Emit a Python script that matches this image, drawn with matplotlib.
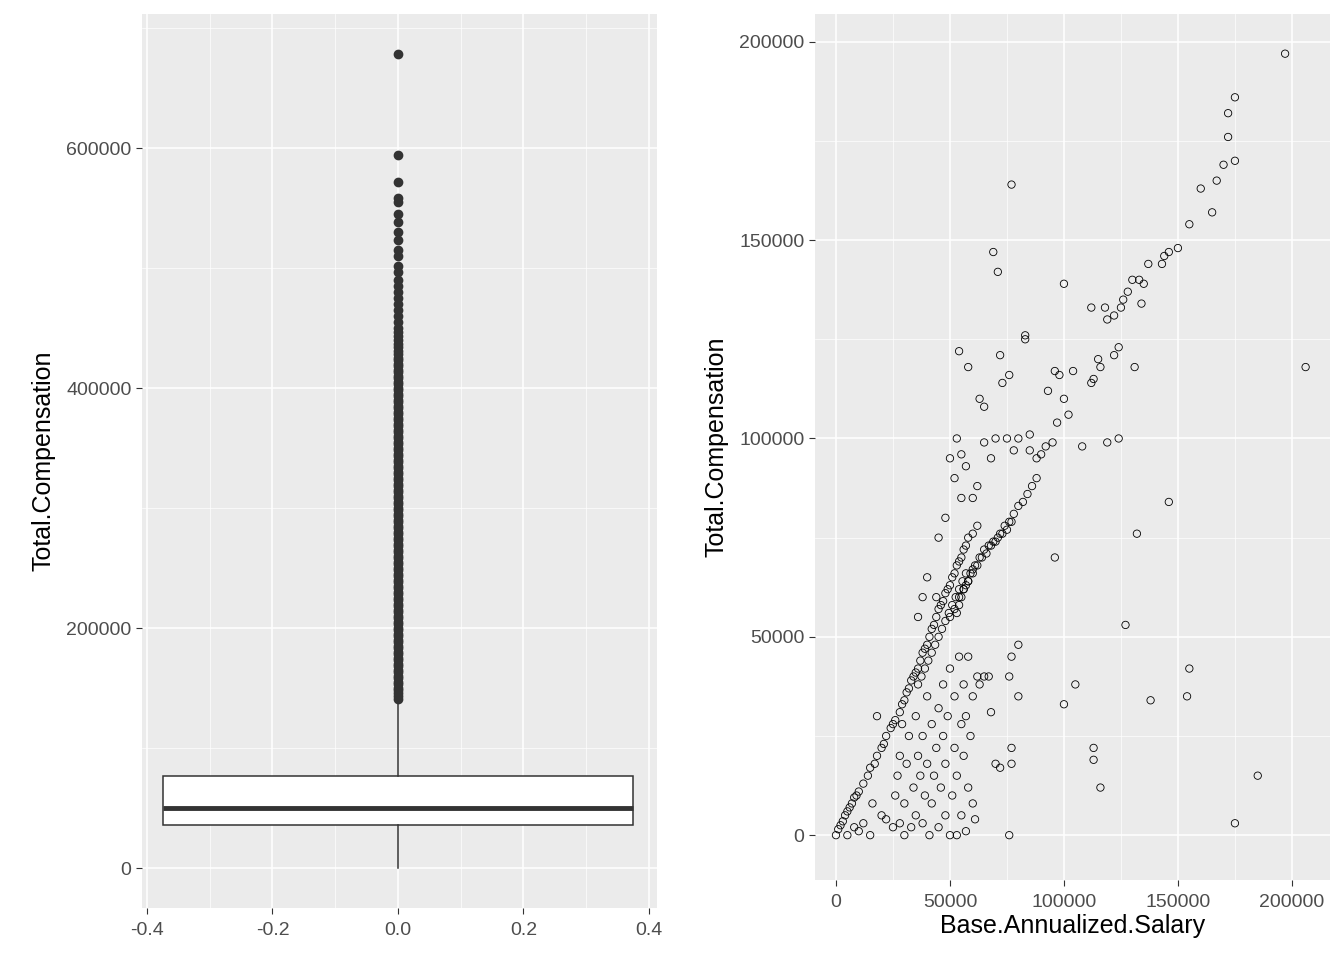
import numpy as np
import matplotlib
matplotlib.use("Agg")
import matplotlib.pyplot as plt

plt.rcParams["font.family"] = ["Liberation Sans", "DejaVu Sans"]

# box statistics (Total.Compensation)
box_q1, box_med, box_q3 = 36000, 50000, 77000
box_lo, box_hi = 0, 140000
outliers = [141000, 143000, 146000, 148000, 150000, 153000, 155000, 158000, 160000, 163000,
            165000, 168000, 170000, 173000, 175000, 178000, 180000, 183000, 185000, 188000,
            190000, 193000, 195000, 198000, 200000, 203000, 205000, 208000, 210000, 213000,
            215000, 218000, 220000, 223000, 225000, 228000, 230000, 233000, 235000, 238000,
            240000, 243000, 245000, 248000, 250000, 253000, 255000, 258000, 260000, 263000,
            265000, 268000, 270000, 273000, 275000, 278000, 280000, 283000, 285000, 288000,
            290000, 293000, 295000, 298000, 300000, 303000, 305000, 308000, 310000, 313000,
            315000, 318000, 320000, 323000, 325000, 328000, 330000, 333000, 335000, 338000,
            340000, 343000, 345000, 348000, 350000, 353000, 355000, 358000, 360000, 363000,
            365000, 368000, 370000, 373000, 375000, 378000, 380000, 383000, 385000, 388000,
            390000, 393000, 395000, 398000, 400000, 403000, 405000, 408000, 410000, 413000,
            415000, 418000, 420000, 423000, 425000, 428000, 431000, 434000, 437000, 440000,
            443000, 447000, 450000, 455000, 460000, 465000, 470000, 475000, 480000, 485000,
            490000, 497000, 502000, 510000, 515000, 523000, 530000, 538000, 545000, 555000,
            558000, 572000, 594000, 678000]

# scatter: Base.Annualized.Salary vs Total.Compensation
base = [0, 1000, 2000, 3000, 4000, 5000, 6000, 7000, 8000, 9000, 10000, 12000, 14000, 15000,
        17000, 18000, 20000, 21000, 22000, 24000, 25000, 26000, 28000, 29000, 30000, 31000,
        32000, 33000, 34000, 35000, 36000, 37000, 38000, 39000, 40000, 41000, 42000, 43000,
        44000, 45000, 46000, 47000, 48000, 49000, 50000, 51000, 52000, 53000, 54000, 55000,
        56000, 57000, 58000, 60000, 62000,
        50000, 52000, 54000, 56000, 58000, 60000, 62000, 64000, 66000, 68000, 70000, 72000,
        74000, 76000, 78000, 80000, 82000, 84000, 86000, 88000,
        197000, 206000, 175000, 172000, 172000, 175000, 170000, 165000, 167000, 160000, 155000,
        150000, 146000, 144000, 143000, 137000, 133000, 135000, 130000, 128000, 126000, 125000,
        118000, 119000, 122000, 112000, 115000, 116000, 113000, 112000, 124000, 122000, 134000,
        131000, 119000, 124000, 100000, 77000, 69000, 71000, 54000, 58000, 72000, 83000, 83000,
        76000, 73000, 63000, 65000, 146000, 132000, 127000, 155000, 154000, 138000, 185000,
        175000, 113000, 113000, 116000, 105000, 100000, 96000, 80000, 80000, 77000, 77000,
        72000, 76000, 76000, 77000,
        5000, 8000, 10000, 12000, 15000, 16000, 18000, 20000, 22000, 25000, 26000, 27000, 28000,
        28000, 29000, 30000, 30000, 31000, 32000, 33000, 34000, 35000, 35000, 36000, 37000,
        38000, 38000, 39000, 40000, 40000, 41000, 42000, 42000, 43000, 44000, 45000, 45000,
        46000, 47000, 47000, 48000, 48000, 49000, 50000, 50000, 51000, 52000, 52000, 53000,
        53000, 54000, 55000, 55000, 56000, 56000, 57000, 57000, 58000, 58000, 59000, 60000,
        60000, 61000, 62000, 63000, 65000, 67000, 68000, 70000,
        55000, 50000, 52000, 53000, 55000, 57000, 60000, 62000, 65000, 68000, 70000, 75000,
        78000, 80000, 85000, 88000, 90000, 92000, 95000, 97000, 98000, 100000, 102000, 104000,
        108000, 93000, 96000, 85000, 48000, 45000, 44000, 40000, 38000, 36000,
        36000, 37500, 39000, 40500, 42000, 43500, 45000, 46500, 48000, 49500, 51000, 52500,
        54000, 55500, 57000, 53000, 54000, 55000, 56000, 57000, 58000, 59000, 60000, 61000,
        63000, 65000, 67000, 69000, 71000, 73000, 75000, 77000]
total = [0, 1500, 2500, 3500, 5000, 6000, 7000, 8000, 9500, 10000, 11000, 13000, 15000, 17000,
         18000, 20000, 22000, 23000, 25000, 27000, 28000, 29000, 31000, 33000, 34000, 36000,
         37000, 39000, 40000, 41000, 42000, 44000, 46000, 47000, 48000, 50000, 52000, 53000,
         55000, 57000, 58000, 59000, 61000, 62000, 63000, 65000, 66000, 68000, 69000, 70000,
         72000, 73000, 75000, 76000, 78000,
         55000, 57000, 60000, 62000, 64000, 66000, 68000, 70000, 71000, 73000, 74000, 76000,
         78000, 79000, 81000, 83000, 84000, 86000, 88000, 90000,
         197000, 118000, 186000, 182000, 176000, 170000, 169000, 157000, 165000, 163000, 154000,
         148000, 147000, 146000, 144000, 144000, 140000, 139000, 140000, 137000, 135000, 133000,
         133000, 130000, 131000, 133000, 120000, 118000, 115000, 114000, 123000, 121000, 134000,
         118000, 99000, 100000, 139000, 164000, 147000, 142000, 122000, 118000, 121000, 126000,
         125000, 116000, 114000, 110000, 108000, 84000, 76000, 53000, 42000, 35000, 34000,
         15000, 3000, 22000, 19000, 12000, 38000, 33000, 70000, 48000, 35000, 22000, 18000,
         17000, 0, 40000, 45000,
         0, 2000, 1000, 3000, 0, 8000, 30000, 5000, 4000, 2000, 10000, 15000, 3000, 20000,
         28000, 0, 8000, 18000, 25000, 2000, 12000, 30000, 5000, 20000, 15000, 3000, 25000,
         10000, 35000, 18000, 0, 28000, 8000, 15000, 22000, 2000, 32000, 12000, 38000, 25000,
         5000, 18000, 30000, 0, 42000, 10000, 22000, 35000, 0, 15000, 45000, 28000, 5000, 38000,
         20000, 1000, 30000, 12000, 45000, 25000, 8000, 35000, 4000, 40000, 38000, 40000, 40000,
         31000, 18000,
         85000, 95000, 90000, 100000, 96000, 93000, 85000, 88000, 99000, 95000, 100000, 100000,
         97000, 100000, 101000, 95000, 96000, 98000, 99000, 104000, 116000, 110000, 106000,
         117000, 98000, 112000, 117000, 97000, 80000, 75000, 60000, 65000, 60000, 55000,
         38000, 40000, 42000, 44000, 46000, 48000, 50000, 52000, 54000, 56000, 58000, 60000,
         62000, 64000, 66000, 56000, 58000, 60000, 62000, 63000, 64000, 66000, 67000, 68000,
         70000, 72000, 73000, 74000, 75000, 76000, 77000, 79000]

BG, TXT = "#EBEBEB", "#4D4D4D"


def style(ax, xmin, ymin):
    ax.set_facecolor(BG)
    for s in ax.spines.values():
        s.set_visible(False)
    ax.set_xticks(xmin, minor=True)
    ax.set_yticks(ymin, minor=True)
    ax.grid(True, which="major", color="white", lw=1.1)
    ax.grid(True, which="minor", color="white", lw=0.5)
    ax.set_axisbelow(True)
    ax.tick_params(which="major", colors="#333333", labelcolor=TXT, labelsize=14, length=4)
    ax.tick_params(axis="x", which="major", pad=6)
    ax.tick_params(which="minor", length=0)


fig = plt.figure(figsize=(13.44, 9.6), dpi=100)
axl = fig.add_axes([142 / 1344, 52 / 960, 515 / 1344, 894 / 960])
axr = fig.add_axes([815 / 1344, 80 / 960, 515 / 1344, 866 / 960])

stats = [dict(q1=box_q1, med=box_med, q3=box_q3, whislo=box_lo, whishi=box_hi, fliers=outliers)]
axl.bxp(stats, positions=[0], widths=0.75, patch_artist=True,
        boxprops=dict(facecolor="white", edgecolor="#333333", lw=1.1),
        medianprops=dict(color="#333333", lw=3.5),
        whiskerprops=dict(color="#333333", lw=1.1), capprops=dict(lw=0),
        flierprops=dict(marker="o", markerfacecolor="#333333", markeredgecolor="#333333",
                        markersize=6))
axl.set_xlim(-0.408, 0.413)
axl.set_ylim(-33300, 711700)
axl.set_xticks([-0.4, -0.2, 0.0, 0.2, 0.4])
axl.set_xticklabels(["-0.4", "-0.2", "0.0", "0.2", "0.4"])
axl.set_yticks([0, 200000, 400000, 600000])
style(axl, [-0.3, -0.1, 0.1, 0.3], [100000, 300000, 500000, 700000])
axl.set_ylabel("Total.Compensation", fontsize=18, color="black", labelpad=8)

axr.scatter(base, total, s=28, facecolors="none", edgecolors="black", linewidths=0.6)
axr.set_xlim(-9200, 216700)
axr.set_ylim(-11300, 207000)
axr.set_xticks([0, 50000, 100000, 150000, 200000])
axr.set_yticks([0, 50000, 100000, 150000, 200000])
style(axr, [25000, 75000, 125000, 175000], [25000, 75000, 125000, 175000])
axr.set_xlabel("Base.Annualized.Salary", fontsize=18, color="black", labelpad=2)
axr.set_ylabel("Total.Compensation", fontsize=18, color="black", labelpad=8)

fig.savefig("out.png", dpi=100)
